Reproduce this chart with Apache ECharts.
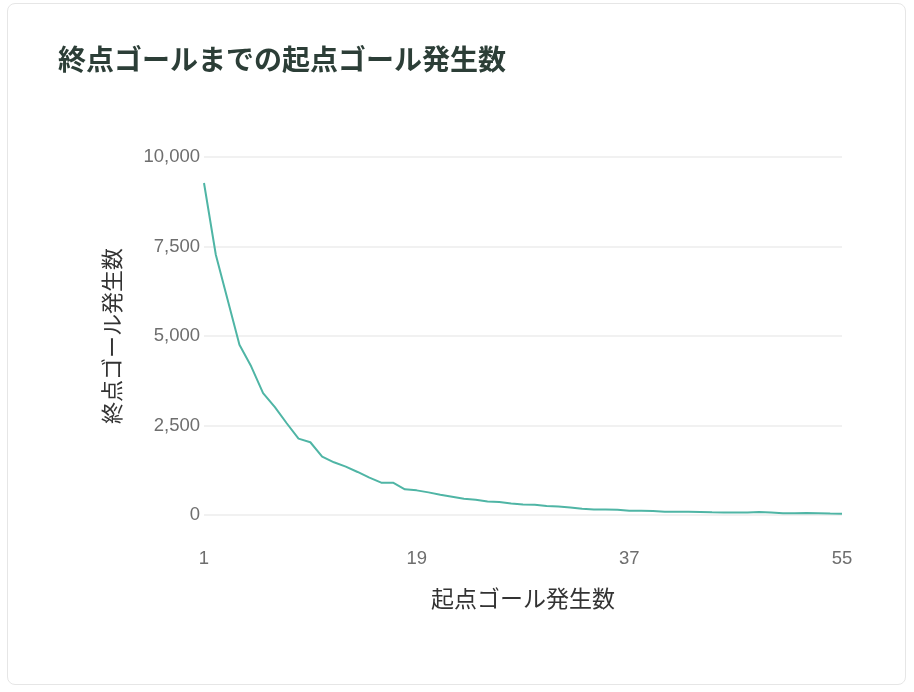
<!DOCTYPE html>
<html><head><meta charset="utf-8">
<script src="https://cdn.jsdelivr.net/npm/echarts@6/dist/echarts.min.js"></script>
<style>
html,body{margin:0;padding:0;background:#fff;}
#card{position:absolute;left:7px;top:3px;width:897px;height:680px;border:1px solid #e6e6e6;border-radius:8px;}
#c{position:absolute;left:0;top:0;width:914px;height:692px;}
</style></head>
<body>
<div id="card"></div>
<div id="c"></div>
<script>
const titleText = '終点ゴールまでの起点ゴール発生数';
const xName = '起点ゴール発生数';
const yName = '終点ゴール発生数';
const categories = [];
for (let i = 1; i <= 55; i++) categories.push(String(i));
const counts = [9273, 7269, 6011, 4753, 4147, 3402, 3011, 2563, 2134, 2032,
  1631, 1472, 1351, 1202, 1044, 904, 904, 718, 688, 632,
  567, 512, 456, 428, 380, 363, 324, 296, 288, 252,
  240, 212, 176, 157, 157, 150, 120, 120, 112, 92,
  92, 92, 84, 75, 67, 67, 67, 84, 67, 50,
  50, 55, 50, 42, 35];
const yTicks = [0, 2500, 5000, 7500, 10000];

const chart = echarts.init(document.getElementById('c'));
chart.setOption({
  animation: false,
  title: {
    text: titleText, left: 53, top: 40,
    textStyle: { fontSize: 28, fontWeight: 'bold', color: '#2c3e37', fontFamily: 'Noto Sans CJK JP' }
  },
  grid: { left: 204, right: 72, top: 157, bottom: 177 },
  xAxis: {
    type: 'category', data: categories, boundaryGap: false,
    name: xName, nameLocation: 'middle', nameGap: 72,
    nameTextStyle: { fontSize: 23, color: '#333', fontFamily: 'Noto Sans CJK JP' },
    axisLine: { show: false }, axisTick: { show: false },
    axisLabel: { interval: 17, margin: 34, fontSize: 18.5, color: '#6e6e6e', fontFamily: 'Liberation Sans' },
    splitLine: { show: false }
  },
  yAxis: {
    type: 'value', min: yTicks[0], max: yTicks[yTicks.length - 1], interval: 2500,
    name: yName, nameLocation: 'middle', nameGap: 81,
    nameTextStyle: { fontSize: 22, color: '#333', fontFamily: 'Noto Sans CJK JP' },
    axisLine: { show: false }, axisTick: { show: false },
    axisLabel: { margin: 4, fontSize: 18.5, color: '#6e6e6e', fontFamily: 'Liberation Sans',
      formatter: v => v.toLocaleString('en-US') },
    splitLine: { lineStyle: { color: '#ededed', width: 1.5 } }
  },
  series: [{
    type: 'line', data: counts, showSymbol: false, symbol: 'none',
    lineStyle: { color: '#4fb5a5', width: 2 }, itemStyle: { color: '#4fb5a5' }
  }]
});
</script>
</body></html>
